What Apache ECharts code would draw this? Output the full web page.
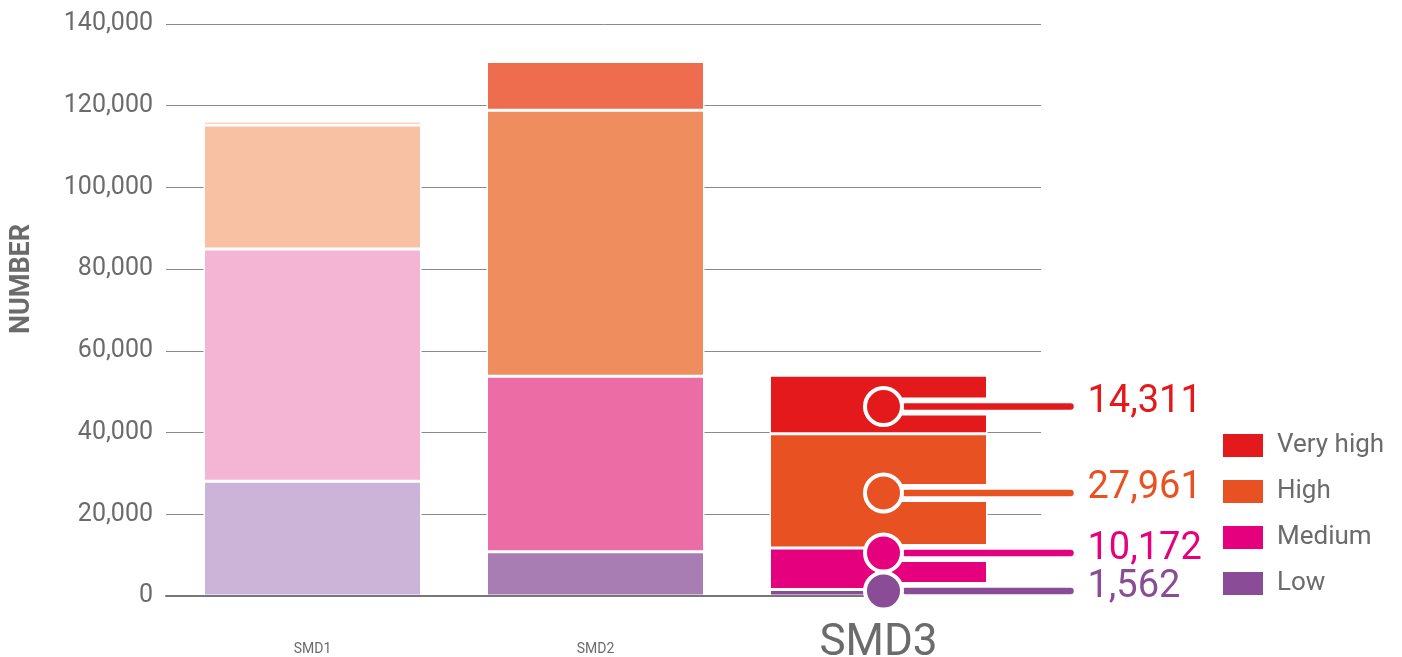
<!DOCTYPE html>
<html>
<head>
<meta charset="utf-8">
<title>SMD</title>
<script src="https://cdn.jsdelivr.net/npm/echarts@6/dist/echarts.min.js"></script>
<style>
html,body{margin:0;padding:0;background:#fff;}
#chartmain{width:1402px;height:657px;}
</style>
</head>
<body>
<div id="chartmain"></div>
<script>
// data
var categories = ['SMD1', 'SMD2', 'SMD3'];
var levelNames = ['Low', 'Medium', 'High', 'Very high'];
var lowValues = [28100, 10800, 1562];
var mediumValues = [56800, 43000, 10172];
var highValues = [30400, 65100, 27961];
var veryHighValues = [900, 11900, 14311];
var yMin = 0;
var yMax = 140000;
var yStep = 20000;

// colours: pale for SMD1, mid for SMD2, full for SMD3
var paleColors = ['#CBB4D8', '#F4B4D4', '#F9C1A3', '#F4AB8F'];
var midColors = ['#A77DB3', '#EC6DA5', '#F08D5F', '#EE6D4E'];
var darkColors = ['#8A4B97', '#E5007E', '#E85222', '#E3191B'];

var labelGray = '#6b6b6b';
var fontName = 'Roboto, "DejaVu Sans", sans-serif';

function fmt(v){
	return String(v).replace(/\B(?=(\d{3})+(?!\d))/g, ',');
}

var allValues = [lowValues, mediumValues, highValues, veryHighValues];

function buildBar(k){
	var vals = allValues[k];
	var data = [];
	for(var i=0;i<vals.length;i++){
		var c = i==0 ? paleColors[k] : (i==1 ? midColors[k] : darkColors[k]);
		data.push({value: vals[i], itemStyle: {color: c}});
	}
	return {
		name: levelNames[k],
		type: 'bar',
		stack: 'total',
		xAxisIndex: 1,
		yAxisIndex: 1,
		barWidth: 218,
		itemStyle: {color: darkColors[k], borderColor: '#fff', borderWidth: 1.5},
		data: data,
		z: 2
	};
}

// callout (circle + line + number) for the last column
function renderCallout(params, api){
	var k = api.value(0);
	var col = categories.length - 1;
	var stacks = [];
	for(var i=0;i<allValues.length;i++){
		stacks.push(allValues[i][col]);
	}
	var base = api.coord([col, 0]);
	var ys = [];
	var acc = 0;
	for(var j=0;j<stacks.length;j++){
		ys.push(api.coord([col, acc + stacks[j]/2])[1]);
		acc += stacks[j];
	}
	ys[0] = Math.min(ys[0], base[1] - 5);
	for(var m=1;m<ys.length;m++){
		ys[m] = Math.min(ys[m] + 2, ys[m-1] - 38);
	}
	var cx = base[0] + 5;
	var cy = ys[k];
	var color = darkColors[k];
	return {
		type: 'group',
		children: [
			{type: 'line', shape: {x1: cx, y1: cy, x2: cx + 187, y2: cy}, style: {stroke: '#fff', lineWidth: 18, lineCap: 'round'}},
			{type: 'line', shape: {x1: cx + 22, y1: cy, x2: cx + 187, y2: cy}, style: {stroke: color, lineWidth: 6.5, lineCap: 'round'}},
			{type: 'circle', shape: {cx: cx, cy: cy, r: 18.5}, style: {fill: color, stroke: '#fff', lineWidth: 4}},
			{type: 'text', x: cx + 204, y: cy - 4, style: {text: fmt(stacks[k]), fill: color, fontSize: 38, fontFamily: fontName, verticalAlign: 'middle', align: 'left'}}
		]
	};
}

var series = [];
for(var k=0;k<levelNames.length;k++){
	series.push(buildBar(k));
}
series.push({
	type: 'custom',
	xAxisIndex: 1,
	yAxisIndex: 1,
	renderItem: renderCallout,
	clip: false,
	z: 10,
	silent: true,
	data: [[3], [2], [1], [0]]
});

var myChart = echarts.init(document.getElementById('chartmain'));
var option = {
	animation: false,
	backgroundColor: '#fff',
	textStyle: {fontFamily: fontName},
	legend: {
		data: ['Very high', 'High', 'Medium', 'Low'],
		orient: 'vertical',
		left: 1221,
		top: 432,
		padding: 0,
		icon: 'rect',
		itemWidth: 42,
		itemHeight: 25,
		itemGap: 19,
		textStyle: {color: labelGray, fontSize: 26, fontFamily: fontName, padding: [0, 0, 0, 8]}
	},
	grid: [
		{left: 166, right: 361, top: 24, bottom: 61, outerBoundsMode: 'none'},
		{left: 171, right: 382, top: 24, bottom: 61, outerBoundsMode: 'none'}
	],
	xAxis: [
		{
			gridIndex: 0,
			type: 'category',
			data: [''],
			z: 5,
			axisLine: {show: true, lineStyle: {color: '#777', width: 2}},
			axisTick: {show: false},
			axisLabel: {show: false},
			splitLine: {show: false}
		},
		{
			gridIndex: 1,
			type: 'category',
			data: categories,
			axisLine: {show: false},
			axisTick: {show: false},
			axisLabel: {
				margin: 26,
				formatter: function(v){
					return v == categories[categories.length-1] ? '{big|' + v + '}' : '{small|' + v + '}';
				},
				rich: {
					big: {fontSize: 44, color: labelGray, fontFamily: fontName},
					small: {fontSize: 14, color: labelGray, fontFamily: fontName, padding: [20, 0, 0, 0]}
				}
			}
		}
	],
	yAxis: [
		{
			gridIndex: 0,
			type: 'value',
			min: yMin,
			max: yMax,
			interval: yStep,
			name: 'NUMBER',
			nameLocation: 'middle',
			nameRotate: 90,
			nameGap: 130,
			nameTextStyle: {color: labelGray, fontSize: 27, fontWeight: 'bold', fontFamily: fontName, padding: [0, 0, 0, 62]},
			axisLine: {show: false},
			axisTick: {show: false},
			axisLabel: {color: labelGray, fontSize: 25, margin: 13, fontFamily: fontName, formatter: function(v){ return fmt(v); }},
			splitLine: {show: true, lineStyle: {color: '#8a8a8a', width: 1}}
		},
		{
			gridIndex: 1,
			type: 'value',
			min: yMin,
			max: yMax,
			interval: yStep,
			show: false,
			splitLine: {show: false}
		}
	],
	series: series
};
myChart.setOption(option);
</script>
</body>
</html>
